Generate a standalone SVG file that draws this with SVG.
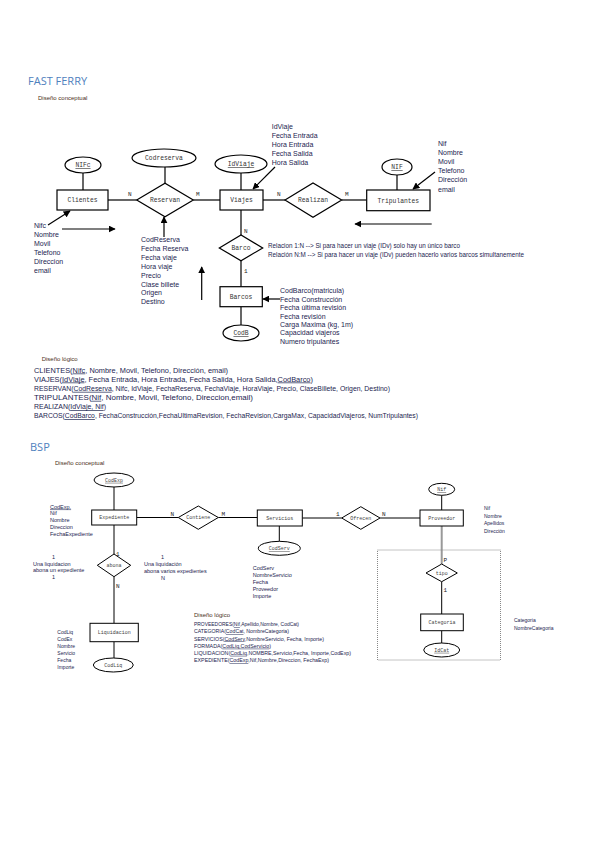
<svg xmlns="http://www.w3.org/2000/svg" width="599" height="848" viewBox="0 0 599 848">
<style>
.title{font-family:"Open Sans","Liberation Sans",sans-serif;font-size:11px;fill:#4F81BD}
.sub{font-family:"Liberation Sans",sans-serif;font-size:6px;fill:#4a3020}
.att{font-family:"Liberation Sans",sans-serif;font-size:7px;fill:#1c2450}
.att2{font-family:"Liberation Sans",sans-serif;font-size:5.5px;fill:#1c2450}
.lbl{font-family:"Liberation Mono",monospace;font-size:6.3px;fill:#333;text-anchor:middle}
.lbl2{font-family:"Liberation Mono",monospace;font-size:5px;fill:#444;text-anchor:middle}
.card{font-family:"Liberation Mono",monospace;font-size:6px;fill:#222}
.shape{fill:#fff;stroke:#000;stroke-width:1.2}
.shape2{fill:#fff;stroke:#000;stroke-width:1}
.ln{stroke:#000;stroke-width:1.2;fill:none}
.ln2{stroke:#000;stroke-width:1;fill:none}
.u{text-decoration:underline}
</style>
<defs>
<marker id="ah" viewBox="0 0 10 10" refX="9" refY="5" markerWidth="7" markerHeight="7" orient="auto-start-reverse" markerUnits="userSpaceOnUse">
<path d="M0,0 L10,5 L0,10 z" fill="#000"/>
</marker>
</defs>
<rect width="599" height="848" fill="#fff"/>

<!-- FAST FERRY -->
<text class="title" x="28" y="85">FAST FERRY</text>
<text class="sub" x="38" y="100">Diseño conceptual</text>

<g id="connectors-ff">
<line class="ln" x1="83" y1="173" x2="83" y2="190" stroke="#888"/>
<line class="ln" x1="165" y1="167" x2="165" y2="183.3"/>
<line class="ln" x1="241" y1="173" x2="241" y2="190"/>
<line class="ln" x1="397" y1="175" x2="397" y2="190"/>
<line class="ln" x1="108" y1="200" x2="136.7" y2="200"/>
<line class="ln" x1="193.3" y1="200" x2="220" y2="200"/>
<line class="ln" x1="263" y1="200" x2="285" y2="200"/>
<line class="ln" x1="341.7" y1="200" x2="366.7" y2="200"/>
<line class="ln" x1="241" y1="210" x2="241" y2="235"/>
<line class="ln" x1="241" y1="260.7" x2="241" y2="286.7"/>
<line class="ln" x1="241" y1="306.7" x2="241" y2="325"/>
<line class="ln" x1="435" y1="172" x2="413" y2="189" marker-end="url(#ah)"/>
<line class="ln" x1="275" y1="167" x2="253" y2="189" marker-end="url(#ah)"/>
<line class="ln" x1="431.7" y1="224" x2="355" y2="224" marker-end="url(#ah)"/>
<line class="ln" x1="48" y1="225" x2="70" y2="211" marker-end="url(#ah)"/>
<line class="ln" x1="62" y1="229" x2="115" y2="229" marker-end="url(#ah)"/>
<line class="ln" x1="164" y1="237" x2="164" y2="217" marker-end="url(#ah)"/>
<line class="ln" x1="201.7" y1="300" x2="201.7" y2="267" marker-end="url(#ah)"/>
<line class="ln" x1="280" y1="299" x2="263" y2="299" marker-end="url(#ah)"/>
<text class="card" x="128" y="196">N</text>
<text class="card" x="196" y="196">M</text>
<text class="card" x="277" y="196">N</text>
<text class="card" x="345" y="196">M</text>
<text class="card" x="244" y="233">N</text>
<text class="card" x="244" y="273">1</text>
</g>

<g id="n-nifc"><ellipse class="shape" cx="83" cy="165" rx="18" ry="8"/><text class="lbl u" x="83" y="167.3">NIFc</text></g>
<g id="n-codreserva"><ellipse class="shape" cx="164" cy="158" rx="32" ry="9"/><text class="lbl" x="164" y="160.3">Codreserva</text></g>
<g id="n-idviaje"><ellipse class="shape" cx="241" cy="164" rx="26" ry="9"/><text class="lbl u" x="241" y="166.3">IdViaje</text></g>
<g id="n-nif"><ellipse class="shape" cx="397" cy="167" rx="15" ry="8"/><text class="lbl u" x="397" y="169.3">NIF</text></g>
<g id="n-clientes"><rect class="shape" x="57" y="190" width="51" height="20"/><text class="lbl" x="82.5" y="202.3">Clientes</text></g>
<g id="n-reservan"><polygon class="shape" points="136.7,200 165,183.3 193.3,200 165,216.7"/><text class="lbl" x="165" y="202.3">Reservan</text></g>
<g id="n-viajes"><rect class="shape" x="220" y="190" width="43" height="20"/><text class="lbl" x="241.5" y="202.3">Viajes</text></g>
<g id="n-realizan"><polygon class="shape" points="285,200 313,183 341.7,200 313,217.3"/><text class="lbl" x="313" y="202.3">Realizan</text></g>
<g id="n-tripulantes"><rect class="shape" x="366.7" y="190" width="63.3" height="20.7"/><text class="lbl" x="398.3" y="202.5">Tripulantes</text></g>
<g id="n-barco-rel"><polygon class="shape" points="219.3,248 241,235 262.7,248 241,260.7"/><text class="lbl" x="241" y="250.2">Barco</text></g>
<g id="n-barcos"><rect class="shape" x="220" y="286.7" width="42.3" height="20"/><text class="lbl" x="241" y="299">Barcos</text></g>
<g id="n-codb"><ellipse class="shape" cx="241" cy="333" rx="18" ry="8"/><text class="lbl u" x="241" y="335.3">CodB</text></g>

<g id="t-idviaje" class="att">
<text x="271.7" y="129">IdViaje</text>
<text x="271.7" y="138.3">Fecha Entrada</text>
<text x="271.7" y="147.3">Hora Entrada</text>
<text x="271.7" y="156">Fecha Salida</text>
<text x="271.7" y="165">Hora Salida</text>
</g>
<g id="t-nif" class="att">
<text x="438" y="146">Nif</text>
<text x="438" y="155">Nombre</text>
<text x="438" y="164">Movil</text>
<text x="438" y="173">Telefono</text>
<text x="438" y="182.3">Dirección</text>
<text x="438" y="191.5">email</text>
</g>
<g id="t-nifc" class="att">
<text x="34" y="227.5">Nifc</text>
<text x="34" y="236.8">Nombre</text>
<text x="34" y="245.8">Movil</text>
<text x="34" y="254.8">Telefono</text>
<text x="34" y="264">Direccion</text>
<text x="34" y="273">email</text>
</g>
<g id="t-codreserva" class="att">
<text x="141" y="241.8">CodReserva</text>
<text x="141" y="250.8">Fecha Reserva</text>
<text x="141" y="259.8">Fecha viaje</text>
<text x="141" y="268.5">Hora viaje</text>
<text x="141" y="277.5">Precio</text>
<text x="141" y="286.5">Clase billete</text>
<text x="141" y="295.2">Origen</text>
<text x="141" y="304.2">Destino</text>
</g>
<g id="t-relacion" class="att">
<text x="268" y="247.5" font-size="6.3">Relacion 1:N --&gt; Si para hacer un viaje (IDv) solo hay un único barco</text>
<text x="268" y="256.5" font-size="6.3">Relación N:M --&gt; Si para hacer un viaje (IDv) pueden hacerlo varios barcos simultanemente</text>
</g>
<g id="t-codbarco" class="att">
<text x="280" y="293">CodBarco(matricula)</text>
<text x="280" y="301.8">Fecha Construcción</text>
<text x="280" y="310">Fecha última revisión</text>
<text x="280" y="318.5">Fecha revisión</text>
<text x="280" y="327">Carga Maxima (kg, 1m)</text>
<text x="280" y="335.3">Capacidad viajeros</text>
<text x="280" y="344">Numero tripulantes</text>
</g>

<g id="logico-ff" class="att">
<text class="sub" x="41.7" y="360.5">Diseño lógico</text>
<text x="34" y="372.5" textLength="194" lengthAdjust="spacingAndGlyphs">CLIENTES(<tspan class="u">Nifc</tspan>, Nombre, Movil, Telefono, Dirección, email)</text>
<text x="34" y="381.5" textLength="279" lengthAdjust="spacingAndGlyphs">VIAJES(<tspan class="u">IdViaje</tspan>, Fecha Entrada, Hora Entrada, Fecha Salida, Hora Salida,<tspan class="u">CodBarco</tspan>)</text>
<text x="34" y="390.8" textLength="356" lengthAdjust="spacingAndGlyphs">RESERVAN(<tspan class="u">CodReserva</tspan>, Nifc, IdViaje, FechaReserva, FechaViaje, HoraViaje, Precio, ClaseBillete, Origen, Destino)</text>
<text x="34" y="399.8" textLength="219" lengthAdjust="spacingAndGlyphs">TRIPULANTES(<tspan class="u">Nif</tspan>, Nombre, Movil, Telefono, Direccion,email)</text>
<text x="34" y="409" textLength="72" lengthAdjust="spacingAndGlyphs">REALIZAN(<tspan class="u">IdViaje, Nif</tspan>)</text>
<text x="34" y="418" textLength="384" lengthAdjust="spacingAndGlyphs">BARCOS(<tspan class="u">CodBarco</tspan>, FechaConstrucción,FechaUltimaRevision, FechaRevision,CargaMax, CapacidadViajeros, NumTripulantes)</text>
</g>

<!-- BSP -->
<text class="title" x="30" y="451" font-size="10.5">BSP</text>
<text class="sub" x="55" y="465" font-size="5.5">Diseño conceptual</text>

<g id="connectors-bsp">
<line class="ln2" x1="114" y1="487" x2="114" y2="510"/>
<line class="ln2" x1="136.7" y1="517.5" x2="178.3" y2="517.5"/>
<line class="ln2" x1="218.3" y1="517.5" x2="257.3" y2="517.5"/>
<line class="ln2" x1="302.3" y1="518" x2="341.7" y2="518"/>
<line class="ln2" x1="380" y1="518" x2="420" y2="518"/>
<line class="ln2" x1="441.7" y1="495.3" x2="441.7" y2="510" stroke="#777"/>
<line class="ln2" x1="279.3" y1="526" x2="279.3" y2="541.3"/>
<line x1="441.7" y1="526" x2="441.7" y2="564" stroke="#999" stroke-width="2"/>
<line class="ln2" x1="441.7" y1="581.7" x2="441.7" y2="614"/>
<line class="ln2" x1="441.7" y1="630.7" x2="441.7" y2="643"/>
<line class="ln2" x1="114" y1="525" x2="114" y2="554"/>
<line class="ln2" x1="114" y1="576.7" x2="114" y2="623.3"/>
<line class="ln2" x1="114" y1="641.7" x2="114" y2="658"/>
<rect x="377.5" y="550" width="123" height="110" fill="none" stroke="#888" stroke-width="1" stroke-dasharray="1,1"/>
<text class="card" x="170.5" y="515.5" font-size="5">N</text>
<text class="card" x="221.5" y="515.5" font-size="5">M</text>
<text class="card" x="336" y="515.5" font-size="5">1</text>
<text class="card" x="382" y="515.5" font-size="5">N</text>
<text class="card" x="443.5" y="562" font-size="5">P</text>
<text class="card" x="443.5" y="592" font-size="5" fill="#2050a0">1</text>
<text class="card" x="116" y="555.5" font-size="5">1</text>
<text class="card" x="116" y="588" font-size="5">N</text>
</g>

<g id="b-codexp"><ellipse class="shape2" cx="114" cy="480" rx="20" ry="7"/><text class="lbl2 u" x="114" y="481.8">CodExp</text></g>
<g id="b-expediente"><rect class="shape2" x="91.7" y="510" width="45" height="15"/><text class="lbl2" x="114.2" y="519.2">Expediente</text></g>
<g id="b-contiene"><polygon class="shape2" points="178.3,517.5 198.3,506 218.3,517.5 198.3,529.3"/><text class="lbl2" x="198.3" y="519.3">Contiene</text></g>
<g id="b-servicios"><rect class="shape2" x="257.3" y="510" width="45" height="16"/><text class="lbl2" x="279.8" y="519.7">Servicios</text></g>
<g id="b-ofrecen"><polygon class="shape2" points="341.7,518 360.8,506.7 380,518 360.8,529.3"/><text class="lbl2" x="360.8" y="519.8">Ofrecen</text></g>
<g id="b-proveedor"><rect class="shape2" x="420" y="510" width="43.3" height="16"/><text class="lbl2" x="441.7" y="519.7">Proveedor</text></g>
<g id="b-nif"><ellipse class="shape2" cx="441.7" cy="489.3" rx="13" ry="6"/><text class="lbl2 u" x="441.7" y="491.1">Nif</text></g>
<g id="b-codserv"><ellipse class="shape2" cx="279.3" cy="548.3" rx="21" ry="7"/><text class="lbl2 u" x="279.3" y="550.1">CodServ</text></g>
<g id="b-tipo"><polygon class="shape2" points="426,573 441.7,564 457.3,573 441.7,581.7"/><text class="lbl2" x="441.7" y="574.8">tipo</text></g>
<g id="b-categoria"><rect class="shape2" x="420.7" y="614" width="42.6" height="16.7"/><text class="lbl2" x="442" y="624">Categoria</text></g>
<g id="b-idcat"><ellipse class="shape2" cx="441.7" cy="650" rx="18" ry="7"/><text class="lbl2 u" x="441.7" y="651.8">IdCat</text></g>
<g id="b-abona"><polygon class="shape2" points="97.3,565.3 114,554 130.7,565.3 114,576.7"/><text class="lbl2" x="114" y="567.1">abona</text></g>
<g id="b-liquidacion"><rect class="shape2" x="90" y="623.3" width="48.3" height="18.4"/><text class="lbl2" x="114.2" y="634.2">Liquidacion</text></g>
<g id="b-codliq"><ellipse class="shape2" cx="113.3" cy="665" rx="20" ry="7"/><text class="lbl2" x="113.3" y="666.8">CodLiq</text></g>

<g id="bt-exp" class="att2">
<text x="50" y="508.5" class="u">CodExp.</text>
<text x="50" y="515.2">Nif</text>
<text x="50" y="522">Nombre</text>
<text x="50" y="528.7">Direccion</text>
<text x="50" y="536">FechaExpediente</text>
</g>
<g id="bt-prov" class="att2">
<text x="484" y="510" font-size="5">Nif</text>
<text x="484" y="517.5" font-size="5">Nombre</text>
<text x="484" y="525" font-size="5">Apellidos</text>
<text x="484" y="532.5" font-size="5">Dirección</text>
</g>
<g id="bt-serv" class="att2">
<text x="252.7" y="570">CodServ</text>
<text x="252.7" y="577">NombreServicio</text>
<text x="252.7" y="584">Fecha</text>
<text x="252.7" y="591">Proveedor</text>
<text x="252.7" y="598">Importe</text>
</g>
<g id="bt-cat" class="att2">
<text x="514" y="622" font-size="5">Categoria</text>
<text x="514" y="629.5" font-size="5">NombreCategoria</text>
</g>
<g id="bt-abona" class="att2">
<text x="52" y="558.5">1</text>
<text x="33" y="565.5">Una liquidacion</text>
<text x="33" y="572.2">abona un expediente</text>
<text x="52" y="579">1</text>
<text x="161" y="558.5">1</text>
<text x="144" y="566">Una liquidación</text>
<text x="144" y="573">abona varios expedientes</text>
<text x="161" y="580">N</text>
</g>
<g id="bt-liq" class="att2">
<text x="57.3" y="633.5" font-size="5">CodLiq</text>
<text x="57.3" y="640.5" font-size="5">CodEx</text>
<text x="57.3" y="647.5" font-size="5">Nombre</text>
<text x="57.3" y="654.5" font-size="5">Servicio</text>
<text x="57.3" y="661.5" font-size="5">Fecha</text>
<text x="57.3" y="668.5" font-size="5">Importe</text>
</g>

<g id="logico-bsp" class="att2">
<text class="sub" x="194" y="617" font-size="5">Diseño lógico</text>
<text x="194" y="626" font-size="5" textLength="105" lengthAdjust="spacingAndGlyphs">PROVEEDORES(<tspan class="u">Nif</tspan>,Apellido,Nombre, CodCat)</text>
<text x="194" y="633.3" font-size="5" textLength="95" lengthAdjust="spacingAndGlyphs">CATEGORIA(<tspan class="u">CodCat</tspan>, NombreCategoria)</text>
<text x="194" y="640.5" font-size="5" textLength="130" lengthAdjust="spacingAndGlyphs">SERVICIOS(<tspan class="u">CodServ</tspan>,NombreServicio, Fecha, Importe)</text>
<text x="194" y="647.7" font-size="5" textLength="77" lengthAdjust="spacingAndGlyphs">FORMADA(<tspan class="u">CodLiq,CodServicio</tspan>)</text>
<text x="194" y="654.8" font-size="5" textLength="157" lengthAdjust="spacingAndGlyphs">LIQUIDACION(<tspan class="u">CodLiq</tspan>,NOMBRE,Servicio,Fecha, Importe,CodExp)</text>
<text x="194" y="662" font-size="5" textLength="135" lengthAdjust="spacingAndGlyphs">EXPEDIENTE(<tspan class="u">CodExp</tspan>,Nif,Nombre,Direccion, FechaExp)</text>
</g>
</svg>
